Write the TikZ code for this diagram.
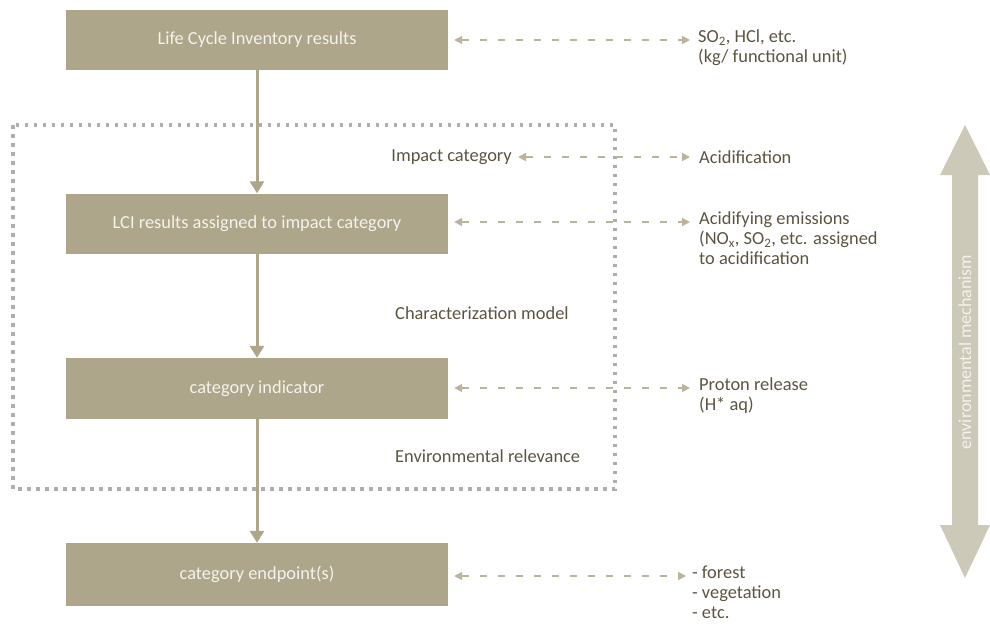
\documentclass[tikz,border=0pt]{standalone}
\usepackage{fontspec}
\setmainfont{Carlito}
\usetikzlibrary{arrows.meta}
\definecolor{boxc}{HTML}{ADA68A}
\definecolor{dashc}{HTML}{BAB49C}
\definecolor{bigc}{HTML}{CDC9B9}
\definecolor{dotc}{HTML}{ADADAD}
\definecolor{txtc}{HTML}{5A5440}
\definecolor{boxtxt}{HTML}{F4F2EC}
\begin{document}
\begin{tikzpicture}[x=1pt,y=-1pt,
  stage/.style={fill=boxc,draw=none,minimum width=382pt,inner sep=0pt,text=boxtxt,font=\fontsize{18.4}{20}\selectfont},
  lbl/.style={text=txtc,inner sep=0pt,font=\fontsize{18.4}{20}\selectfont,align=left},
  flow/.style={draw=boxc,line width=3pt,-{Triangle[length=12pt,width=14pt]}},
  dasharrow/.style={draw=dashc,line width=1.8pt,dash pattern=on 7pt off 11pt,{Triangle[length=8pt,width=8pt]}-{Triangle[length=8pt,width=8pt]}},
]
\useasboundingbox (0,0) rectangle (990,630);
% dotted frame
\draw[dotc,line width=3.5pt,dash pattern=on 3.5pt off 5.5pt] (13,125) rectangle (615,489);
% stage boxes
\node[stage,minimum height=60pt] (b1) at (257,40) {Life Cycle Inventory results};
\node[stage,minimum height=60pt] (b2) at (257,223.5) {LCI results assigned to impact category};
\node[stage,minimum height=61pt] (b3) at (257,388.5) {category indicator};
\node[stage,minimum height=63pt] (b4) at (257,574.5) {category endpoint(s)};
% vertical flow arrows
\draw[flow] (b1.south) -- (b2.north);
\draw[flow] (b2.south) -- (b3.north);
\draw[flow] (b3.south) -- (b4.north);
% labels inside frame
\node[lbl,anchor=east] (ic) at (512,157) {Impact category};
\node[lbl,anchor=west] (cm) at (395,313) {Characterization model};
\node[lbl,anchor=west] (er) at (395,456) {Environmental relevance};
% right-hand texts
\node[lbl,anchor=north west] (r1) at (698,30) {SO\textsubscript{2}, HCl, etc.\\(kg/ functional unit)};
\node[lbl,anchor=west] (r2) at (699,157) {Acidification};
\node[lbl,anchor=north west] (r3) at (699,212) {Acidifying emissions\\(NO\textsubscript{x}, SO\textsubscript{2}, etc. assigned\\to acidification};
\node[lbl,anchor=north west] (r4) at (699,378) {Proton release\\(H* aq)};
\node[lbl,anchor=north west] (r5) at (692,566) {- forest\\- vegetation\\- etc.};
% arrow end coordinates
\coordinate (e1) at (690,40);
\coordinate (e2) at (690,157);
\coordinate (e3) at (690,222);
\coordinate (e4) at (690,388);
\coordinate (e5) at (686,576);
% dashed double arrows
\draw[dasharrow] ([xshift=6pt]b1.east) -- (e1);
\draw[dasharrow] ([xshift=6pt]ic.east) -- (e2);
\draw[dasharrow] ([xshift=6pt]b2.east |- e3) -- (e3);
\draw[dasharrow] ([xshift=6pt]b3.east |- e4) -- (e4);
\draw[dasharrow] ([xshift=6pt]b4.east |- e5) -- (e5);
% big double arrow
\fill[bigc] (965,125) -- (990,175) -- (978,175) -- (978,525) -- (990,525) -- (965,578)
  -- (940,525) -- (952,525) -- (952,175) -- (940,175) -- cycle;
\node[rotate=90,text=boxtxt,inner sep=0pt,font=\fontsize{18}{20}\selectfont] (em) at (965,352) {environmental mechanism};
\end{tikzpicture}
\end{document}
